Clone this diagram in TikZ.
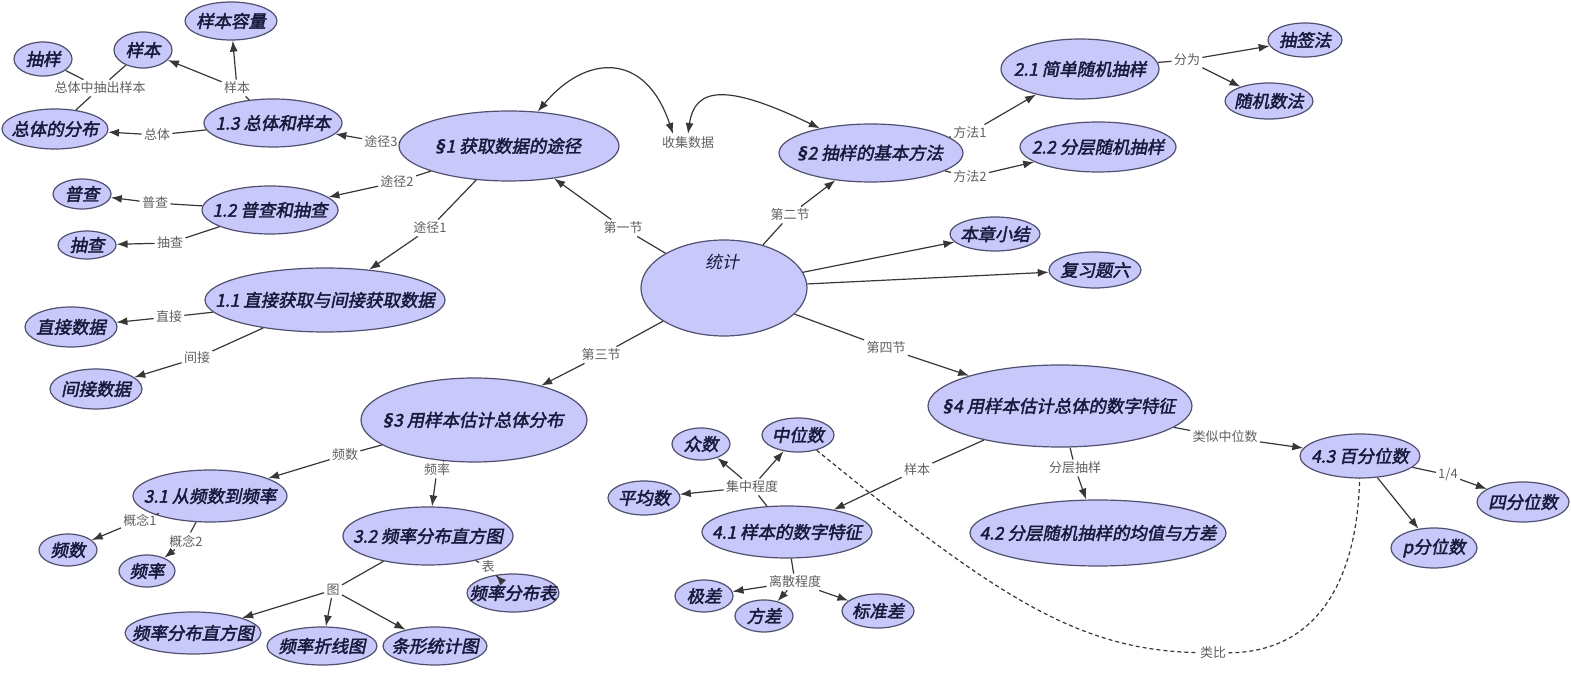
\documentclass[tikz,border=0pt]{standalone}
\usepackage{fontspec}
\newfontfamily\cjk[AutoFakeBold=2.2,AutoFakeSlant=0.2]{Noto Sans CJK SC}
\newfontfamily\lat{DejaVu Sans}
\usetikzlibrary{shapes.geometric}
\usetikzlibrary{arrows.meta}
\definecolor{bubfill}{RGB}{200,200,250}
\definecolor{bubline}{RGB}{80,80,112}
\definecolor{bubtext}{RGB}{25,25,60}
\definecolor{linkgray}{RGB}{55,55,55}
\definecolor{labgray}{RGB}{95,95,95}
\tikzset{>={Latex[width=4pt,length=5.5pt]}}
\tikzset{
  ntx/.style={text=bubtext, font=\cjk\fontsize{8.7}{10}\selectfont\bfseries\itshape},
  bub/.style={ellipse, draw=bubline, line width=0.6pt, fill=bubfill, inner sep=0pt, ntx},
  sz/.style 2 args={minimum width=#1pt, minimum height=#2pt},
  lab/.style={inner sep=1pt, text=labgray, font=\cjk\fontsize{6.5}{7.5}\selectfont},
  link/.style={draw=linkgray, line width=0.6pt},
}
\newcommand{\ntxt}[1]{\makebox[0pt]{#1}}
\newcommand{\sect}{{\lat\bfseries\itshape §}}

\begin{document}
\begin{tikzpicture}[x=0.5pt,y=-0.5pt]

  \useasboundingbox (0,0) rectangle (1571,673);

  % centre
  \node[bub, sz={83}{48}] (tj) at (724,288) {};
  \node[ntx, font=\cjk\fontsize{8.5}{10}\selectfont\itshape] (tjt) at (722,262) {统计};

  % section 1
  \node[bub, sz={110}{35}] (s1) at (509,146) {\ntxt{\sect1 获取数据的途径}};
  \node[bub, sz={69}{24}] (z13) at (273,123) {\ntxt{1.3 总体和样本}};
  \node[bub, sz={68}{24}] (z12) at (270,210) {\ntxt{1.2 普查和抽查}};
  \node[bub, sz={120}{32}] (z11) at (325,300) {\ntxt{1.1 直接获取与间接获取数据}};
  \node[bub, sz={46}{19}] (yrl) at (231,21) {\ntxt{样本容量}};
  \node[bub, sz={29}{18}] (yb) at (143,50) {\ntxt{样本}};
  \node[bub, sz={29}{17}] (cy) at (43,59) {\ntxt{抽样}};
  \node[bub, sz={53}{20}] (ztfb) at (55,129) {\ntxt{总体的分布}};
  \node[bub, sz={29}{15}] (pc) at (82,194) {\ntxt{普查}};
  \node[bub, sz={29}{14}] (cc) at (87,245) {\ntxt{抽查}};
  \node[bub, sz={46}{20}] (zjsj) at (71,327) {\ntxt{直接数据}};
  \node[bub, sz={46}{20}] (jjsj) at (96,389) {\ntxt{间接数据}};

  % section 2
  \node[bub, sz={92}{29}] (s2) at (871,153) {\ntxt{\sect2 抽样的基本方法}};
  \node[bub, sz={79}{30}] (z21) at (1080,69) {\ntxt{2.1 简单随机抽样}};
  \node[bub, sz={78}{25}] (z22) at (1098,147) {\ntxt{2.2 分层随机抽样}};
  \node[bub, sz={37}{17}] (cqf) at (1305,40) {\ntxt{抽签法}};
  \node[bub, sz={44}{18}] (sjsf) at (1269,101) {\ntxt{随机数法}};

  \node[bub, sz={45}{17}] (bzxj) at (995,234) {\ntxt{本章小结}};
  \node[bub, sz={46}{18}] (fxt) at (1095,270) {\ntxt{复习题六}};

  % section 3
  \node[bub, sz={113}{42}] (s3) at (474,420) {\ntxt{\sect3 用样本估计总体分布}};
  \node[bub, sz={77}{26}] (z31) at (210,496) {\ntxt{3.1 从频数到频率}};
  \node[bub, sz={85}{29}] (z32) at (428,536) {\ntxt{3.2 频率分布直方图}};
  \node[bub, sz={29}{16}] (ps) at (68,550) {\ntxt{频数}};
  \node[bub, sz={28}{16}] (pl) at (147,571) {\ntxt{频率}};
  \node[bub, sz={68}{21}] (plzft) at (193,633) {\ntxt{频率分布直方图}};
  \node[bub, sz={55}{19}] (plzxt) at (322,646) {\ntxt{频率折线图}};
  \node[bub, sz={52}{19}] (txtjt) at (435,646) {\ntxt{条形统计图}};
  \node[bub, sz={46}{19}] (plfbb) at (513,593) {\ntxt{频率分布表}};

  % section 4
  \node[bub, sz={132}{41}] (s4) at (1060,406) {\ntxt{\sect4 用样本估计总体的数字特征}};
  \node[bub, sz={85}{26}] (z41) at (787,532) {\ntxt{4.1 样本的数字特征}};
  \node[bub, sz={128}{33}] (z42) at (1098,533) {\ntxt{4.2 分层随机抽样的均值与方差}};
  \node[bub, sz={60}{22}] (z43) at (1360,456) {\ntxt{4.3 百分位数}};
  \node[bub, sz={29}{16}] (zs) at (701,444) {\ntxt{众数}};
  \node[bub, sz={36}{17}] (zws) at (798,435) {\ntxt{中位数}};
  \node[bub, sz={36}{17}] (pjs) at (644,498) {\ntxt{平均数}};
  \node[bub, sz={29}{16}] (jc) at (704,596) {\ntxt{极差}};
  \node[bub, sz={29}{16}] (fc) at (764,616) {\ntxt{方差}};
  \node[bub, sz={36}{17}] (bzc) at (878,611) {\ntxt{标准差}};
  \node[bub, sz={46}{20}] (sfws) at (1523,502) {\ntxt{四分位数}};
  \node[bub, sz={43}{20}] (pfws) at (1434,548) {\ntxt{p分位数}};

  % link labels
  \node[lab] (lcy) at (100,88) {总体中抽出样本};
  \node[lab] (lyb) at (237,88) {样本};
  \node[lab] (lzt) at (157,135) {总体};
  \node[lab] (lt3) at (381,142) {途径3};
  \node[lab] (lt2) at (397,182) {途径2};
  \node[lab] (lt1) at (430,228) {途径1};
  \node[lab] (lpc) at (155,203) {普查};
  \node[lab] (lcc) at (170,243) {抽查};
  \node[lab] (lzj) at (169,317) {直接};
  \node[lab] (ljj) at (197,358) {间接};
  \node[lab] (l1) at (623,228) {第一节};
  \node[lab] (l2) at (790,215) {第二节};
  \node[lab] (l3) at (601,355) {第三节};
  \node[lab] (l4) at (886,348) {第四节};
  \node[lab] (lsj) at (688,143) {收集数据};
  \node[lab] (lf1) at (970,133) {方法1};
  \node[lab] (lf2) at (970,177) {方法2};
  \node[lab] (lfw) at (1187,60) {分为};
  \node[lab] (lps) at (345,455) {频数};
  \node[lab] (lpl) at (437,470) {频率};
  \node[lab] (lgn1) at (140,520) {概念1};
  \node[lab] (lgn2) at (186,541) {概念2};
  \node[lab] (ltu) at (333,590) {图};
  \node[lab] (lbiao) at (488,567) {表};
  \node[lab] (lyb4) at (917,470) {样本};
  \node[lab] (lfc) at (1075,468) {分层抽样};
  \node[lab] (llsz) at (1225,437) {类似中位数};
  \node[lab] (l14) at (1448,475) {1/4};
  \node[lab] (ljz) at (752,487) {集中程度};
  \node[lab] (lls) at (795,582) {离散程度};
  \node[lab] (llb) at (1213,653) {类比};

  \coordinate (sjl) at (673,134);
  \coordinate (sjr) at (688,134);

  % connectors
  \draw[link] (z13) -- (lyb);
  \draw[link,->] (lyb) -- (yb);
  \draw[link,->] (lyb) -- (yrl);
  \draw[link] (cy) -- (lcy);
  \draw[link] (yb) -- (lcy);
  \draw[link] (lcy) -- (ztfb);
  \draw[link] (z13) -- (lzt);
  \draw[link,->] (lzt) -- (ztfb);

  \draw[link] (s1) -- (lt3);
  \draw[link,->] (lt3) -- (z13);
  \draw[link] (s1) -- (lt2);
  \draw[link,->] (lt2) -- (z12);
  \draw[link] (s1) -- (lt1);
  \draw[link,->] (lt1) -- (z11);
  \draw[link] (z12) -- (lpc);
  \draw[link,->] (lpc) -- (pc);
  \draw[link] (z12) -- (lcc);
  \draw[link,->] (lcc) -- (cc);
  \draw[link] (z11) -- (lzj);
  \draw[link,->] (lzj) -- (zjsj);
  \draw[link] (z11) -- (ljj);
  \draw[link,->] (ljj) -- (jjsj);

  \draw[link] (tj) -- (l1);
  \draw[link,->] (l1) -- (s1);
  \draw[link] (tj) -- (l2);
  \draw[link,->] (l2) -- (s2);
  \draw[link] (tj) -- (l3);
  \draw[link,->] (l3) -- (s3);
  \draw[link] (tj) -- (l4);
  \draw[link,->] (l4) -- (s4);
  \draw[link,->] (tj) -- (bzxj);
  \draw[link,->] (tj) -- (fxt);

  \draw[link,<->] (s1) .. controls (585,55) and (645,50) .. (sjl);
  \draw[link,<->] (sjr) .. controls (695,85) and (730,85) .. (s2);

  \draw[link] (s2) -- (lf1);
  \draw[link,->] (lf1) -- (z21);
  \draw[link] (s2) -- (lf2);
  \draw[link,->] (lf2) -- (z22);
  \draw[link] (z21) -- (lfw);
  \draw[link,->] (lfw) -- (cqf);
  \draw[link,->] (lfw) -- (sjsf);

  \draw[link] (s3) -- (lps);
  \draw[link,->] (lps) -- (z31);
  \draw[link] (s3) -- (lpl);
  \draw[link,->] (lpl) -- (z32);
  \draw[link] (z31) -- (lgn1);
  \draw[link,->] (lgn1) -- (ps);
  \draw[link] (z31) -- (lgn2);
  \draw[link,->] (lgn2) -- (pl);
  \draw[link] (z32) -- (ltu);
  \draw[link,->] (ltu) -- (plzft);
  \draw[link,->] (ltu) -- (plzxt);
  \draw[link,->] (ltu) -- (txtjt);
  \draw[link] (z32) -- (lbiao);
  \draw[link,->] (lbiao) -- (plfbb);

  \draw[link] (s4) -- (lyb4);
  \draw[link,->] (lyb4) -- (z41);
  \draw[link] (s4) -- (lfc);
  \draw[link,->] (lfc) -- (z42);
  \draw[link] (s4) -- (llsz);
  \draw[link,->] (llsz) -- (z43);
  \draw[link] (z41) -- (ljz);
  \draw[link,->] (ljz) -- (zs);
  \draw[link,->] (ljz) -- (zws);
  \draw[link,->] (ljz) -- (pjs);
  \draw[link] (z41) -- (lls);
  \draw[link,->] (lls) -- (jc);
  \draw[link,->] (lls) -- (fc);
  \draw[link,->] (lls) -- (bzc);
  \draw[link] (z43) -- (l14);
  \draw[link,->] (l14) -- (sfws);
  \draw[link,->] (z43) -- (pfws);

  \draw[link, dash pattern=on 2pt off 1.5pt] (zws) .. controls (1000,600) and (1080,650) .. (llb)
    .. controls (1330,652) and (1358,560) .. (z43);

\end{tikzpicture}
\end{document}
